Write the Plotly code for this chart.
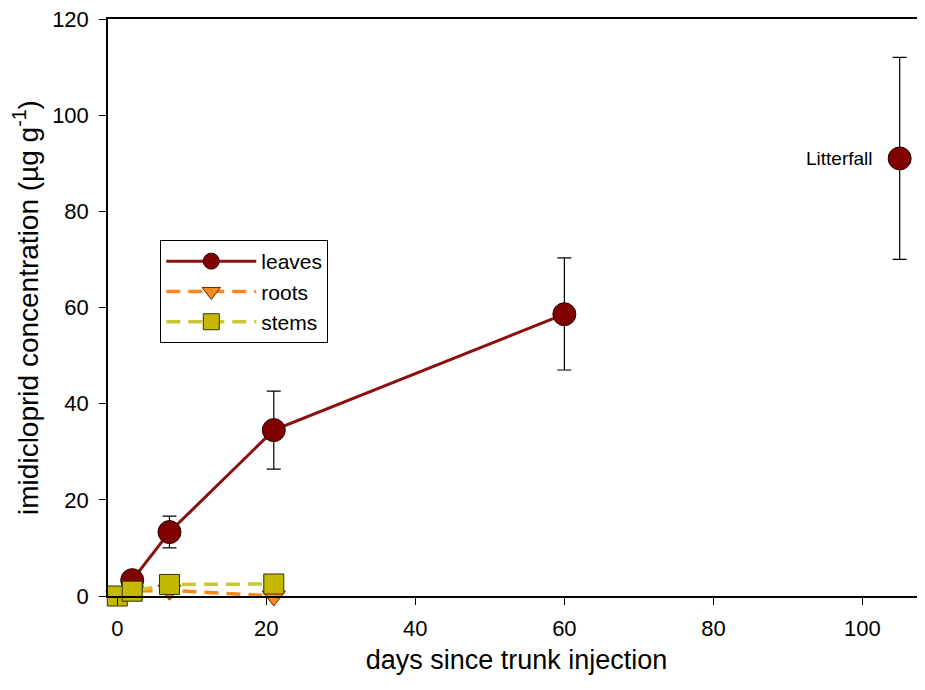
import plotly.graph_objects as go

days = [2, 7, 21, 60]
leaves = [3.3, 13.3, 34.5, 58.6]
leaves_err_plus = [0.6, 3.3, 8.1, 11.7]
leaves_err_minus = [0.6, 3.3, 8.1, 11.6]

days_rs = [0, 2, 7, 21]
roots = [0, 1.0, 1.2, 0]
stems = [0, 1.0, 2.4, 2.5]

litter_day = [105]
litter = [91]
litter_err_plus = [21]
litter_err_minus = [21]

font = "Liberation Sans, Arial, sans-serif"

fig = go.Figure()
fig.add_trace(go.Scatter(
    x=days, y=leaves, name="leaves", mode="lines+markers",
    line=dict(color="#8b1010", width=3),
    marker=dict(symbol="circle", size=23, color="#800000", line=dict(color="#2a0000", width=1)),
    error_y=dict(type="data", array=leaves_err_plus, arrayminus=leaves_err_minus,
                 color="black", thickness=1.2, width=7),
    cliponaxis=False,
))
fig.add_trace(go.Scatter(
    x=days_rs, y=roots, name="roots", mode="lines+markers",
    line=dict(color="#f5891f", width=3.5, dash="14px,8px"),
    marker=dict(symbol="triangle-down", size=20, color="#f5891f", line=dict(color="#5a3000", width=1)),
    cliponaxis=False,
))
fig.add_trace(go.Scatter(
    x=days_rs, y=stems, name="stems", mode="lines+markers",
    line=dict(color="#c8c832", width=3.5, dash="14px,8px"),
    marker=dict(symbol="square", size=20, color="#c4b800", line=dict(color="#333300", width=1)),
    cliponaxis=False,
))
fig.add_trace(go.Scatter(
    x=litter_day, y=litter, name="Litterfall", mode="markers", showlegend=False,
    marker=dict(symbol="circle", size=23, color="#800000", line=dict(color="#2a0000", width=1)),
    error_y=dict(type="data", array=litter_err_plus, arrayminus=litter_err_minus,
                 color="black", thickness=1.2, width=7),
    cliponaxis=False,
))

fig.add_annotation(x=litter_day[0], y=litter[0], text="Litterfall", showarrow=False,
                   xanchor="right", xshift=-25, font=dict(family=font, size=19, color="black"))

fig.update_layout(
    width=917, height=682,
    margin=dict(l=100, r=0, t=11, b=94),
    paper_bgcolor="white", plot_bgcolor="white",
    font=dict(family=font, color="black"),
    showlegend=True,
    legend=dict(x=0.064, y=0.617, xanchor="left", yanchor="top",
                bordercolor="black", borderwidth=1, bgcolor="white",
                font=dict(family=font, size=21), itemwidth=90,
                tracegroupgap=0, traceorder="normal"),
    xaxis=dict(range=[-1.25, 108.4], tickvals=[0, 20, 40, 60, 80, 100],
               showgrid=False, zeroline=False, showline=True, linecolor="black", linewidth=1.5,
               mirror=True, ticks="outside", ticklen=7, tickcolor="black", automargin=False,
               ticklabelstandoff=5, ticklabeloverflow="allow",
               tickfont=dict(family=font, size=22),
               title=dict(text="days since trunk injection", font=dict(family=font, size=27), standoff=10)),
    yaxis=dict(range=[0, 120], tickvals=[0, 20, 40, 60, 80, 100, 120],
               showgrid=False, zeroline=False, showline=True, linecolor="black", linewidth=1.5,
               ticks="outside", ticklen=7, tickcolor="black", automargin=False,
               ticklabelstandoff=6, ticklabeloverflow="allow",
               tickfont=dict(family=font, size=22),
               title=dict(text="imidicloprid concentration (µg g<sup>-1</sup>)",
                          font=dict(family=font, size=28), standoff=6)),
)

fig.write_html("out.html")
